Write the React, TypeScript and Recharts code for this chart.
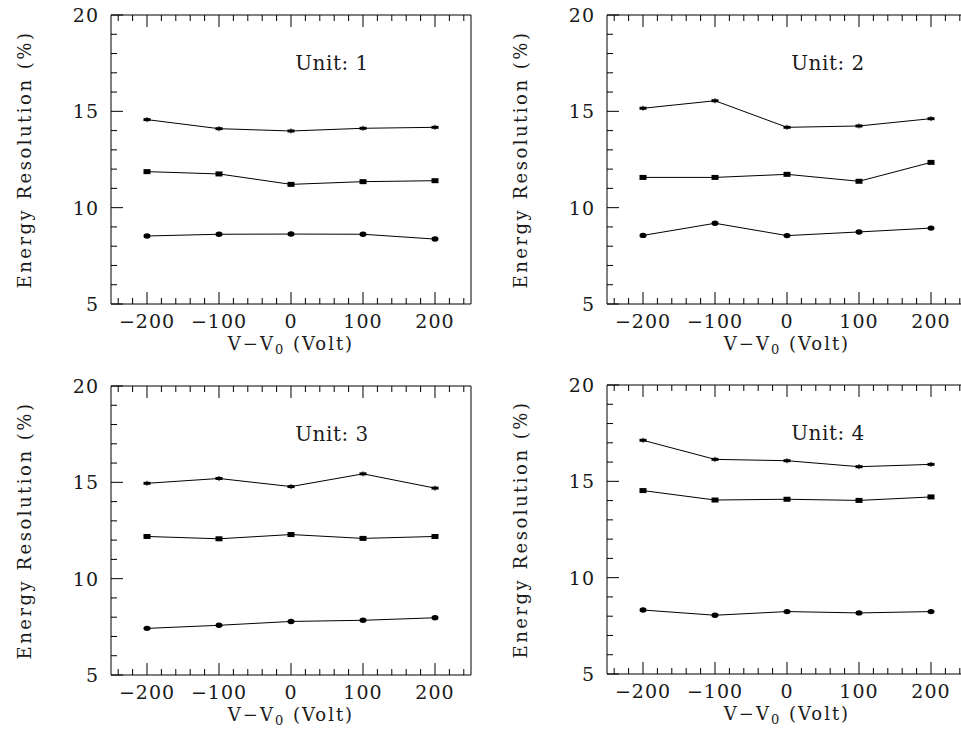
import React from "react";
import { LineChart, Line, XAxis, YAxis, Label } from "recharts";

// --- Data ---
const VOLTS = [-200, -100, 0, 100, 200];

const X_TICKS = [-240, -220, -200, -180, -160, -140, -120, -100, -80, -60, -40, -20, 0, 20, 40, 60, 80, 100, 120, 140, 160, 180, 200, 220, 240];
const X_LABELS = [-200, -100, 0, 100, 200];
const Y_TICKS = [5, 6, 7, 8, 9, 10, 11, 12, 13, 14, 15, 16, 17, 18, 19, 20];
const Y_LABELS = [5, 10, 15, 20];

const UNIT1_HIGH = [14.57, 14.1, 13.98, 14.12, 14.17];
const UNIT1_MID = [11.87, 11.75, 11.21, 11.35, 11.4];
const UNIT1_LOW = [8.53, 8.62, 8.63, 8.62, 8.37];

const UNIT2_HIGH = [15.16, 15.55, 14.17, 14.24, 14.62];
const UNIT2_MID = [11.57, 11.57, 11.73, 11.37, 12.35];
const UNIT2_LOW = [8.56, 9.19, 8.55, 8.74, 8.94];

const UNIT3_HIGH = [14.95, 15.2, 14.78, 15.44, 14.7];
const UNIT3_MID = [12.19, 12.07, 12.29, 12.09, 12.19];
const UNIT3_LOW = [7.42, 7.58, 7.78, 7.84, 7.97];

const UNIT4_HIGH = [17.13, 16.14, 16.07, 15.76, 15.88];
const UNIT4_MID = [14.52, 14.03, 14.07, 14.01, 14.19];
const UNIT4_LOW = [8.32, 8.05, 8.24, 8.17, 8.24];

const FONT = "'DejaVu Serif', 'Liberation Serif', serif";
const INK = "#000";
const TEXT = "#1a1a1a";
const MAJOR = 12;
const MINOR = 6;

const buildRows = (high: number[], mid: number[], low: number[]) =>
  VOLTS.map((v, i) => ({ v, high: high[i], mid: mid[i], low: low[i] }));

const fmt = (v: number) => (v < 0 ? `\u2212${Math.abs(v)}` : `${v}`);

// --- Ticks (drawn inward, like the original frame) ---
function BottomTick({ x, y, payload }: any) {
  const major = X_LABELS.includes(payload.value);
  return (
    <g>
      <line x1={x} y1={y} x2={x} y2={y - (major ? MAJOR : MINOR)} stroke={INK} />
      {major && (
        <text x={x} y={y + 17} textAnchor="middle" dominantBaseline="central" fontFamily={FONT} fontSize={19} letterSpacing={1} fill={TEXT}>
          {fmt(payload.value)}
        </text>
      )}
    </g>
  );
}

function TopTick({ x, y, payload }: any) {
  const major = X_LABELS.includes(payload.value);
  return <line x1={x} y1={y} x2={x} y2={y + (major ? MAJOR : MINOR)} stroke={INK} />;
}

function LeftTick({ x, y, payload }: any) {
  const major = Y_LABELS.includes(payload.value);
  return (
    <g>
      <line x1={x} y1={y} x2={x + (major ? MAJOR : MINOR)} y2={y} stroke={INK} />
      {major && (
        <text x={x - 12} y={y} textAnchor="end" dominantBaseline="central" fontFamily={FONT} fontSize={19} letterSpacing={1} fill={TEXT}>
          {payload.value}
        </text>
      )}
    </g>
  );
}

function RightTick({ x, y, payload }: any) {
  const major = Y_LABELS.includes(payload.value);
  return <line x1={x} y1={y} x2={x - (major ? MAJOR : MINOR)} y2={y} stroke={INK} />;
}

// --- Markers ---
const highDot = (p: any) => (
  <g key={`h-${p.index}`}>
    <rect x={p.cx - 3.5} y={p.cy - 1.5} width={7} height={3} fill={INK} />
    <line x1={p.cx} y1={p.cy - 2.5} x2={p.cx} y2={p.cy + 2.5} stroke={INK} />
  </g>
);
const midDot = (p: any) => <rect key={`m-${p.index}`} x={p.cx - 3.5} y={p.cy - 2.5} width={7} height={5} fill={INK} />;
const lowDot = (p: any) => <ellipse key={`l-${p.index}`} cx={p.cx} cy={p.cy} rx={3.5} ry={2.7} fill={INK} />;

function Panel({ unit, high, mid, low, left, top }: any) {
  const rows = buildRows(high, mid, low);
  return (
    <div style={{ position: "absolute", left, top }}>
      <LineChart width={485} height={365} data={rows} margin={{ top: 14, left: 110, right: 13, bottom: 60 }}>
        <XAxis
          dataKey="v"
          type="number"
          domain={[-250, 250]}
          ticks={X_TICKS}
          interval={0}
          height={1}
          tickSize={0}
          tickMargin={0}
          tick={<BottomTick />}
          axisLine={{ stroke: INK }}
        >
          <Label
            content={({ viewBox }: any) => (
              <text x={viewBox.x + viewBox.width / 2} y={viewBox.y + 46} textAnchor="middle" fontFamily={FONT} fontSize={18} letterSpacing={2} fill={TEXT}>
                <tspan>V{"\u2212"}V</tspan>
                <tspan dy={4} fontSize={13}>0</tspan>
                <tspan dy={-4}> (Volt)</tspan>
              </text>
            )}
          />
        </XAxis>
        <XAxis
          xAxisId="top"
          orientation="top"
          dataKey="v"
          type="number"
          domain={[-250, 250]}
          ticks={X_TICKS}
          interval={0}
          height={1}
          tickSize={0}
          tickMargin={0}
          tick={<TopTick />}
          axisLine={{ stroke: INK }}
        >
          <Label
            content={({ viewBox }: any) => (
              <text x={viewBox.x + 221} y={viewBox.y + 56} textAnchor="middle" fontFamily={FONT} fontSize={20} letterSpacing={0.5} fill={TEXT}>
                {`Unit: ${unit}`}
              </text>
            )}
          />
        </XAxis>
        <YAxis
          type="number"
          domain={[5, 20]}
          ticks={Y_TICKS}
          interval={0}
          width={1}
          tickSize={0}
          tickMargin={0}
          tick={<LeftTick />}
          axisLine={{ stroke: INK }}
        >
          <Label
            content={({ viewBox }: any) => {
              const cx = viewBox.x - 86;
              const cy = viewBox.y + viewBox.height / 2;
              return (
                <text
                  x={cx}
                  y={cy}
                  transform={`rotate(-90 ${cx} ${cy})`}
                  textAnchor="middle"
                  dominantBaseline="central"
                  fontFamily={FONT}
                  fontSize={18}
                  letterSpacing={2.5}
                  fill={TEXT}
                >
                  Energy Resolution (%)
                </text>
              );
            }}
          />
        </YAxis>
        <YAxis
          yAxisId="right"
          orientation="right"
          type="number"
          domain={[5, 20]}
          ticks={Y_TICKS}
          interval={0}
          width={1}
          tickSize={0}
          tickMargin={0}
          tick={<RightTick />}
          axisLine={{ stroke: INK }}
        />
        <Line type="linear" dataKey="high" stroke={INK} strokeWidth={1} dot={highDot} activeDot={false} isAnimationActive={false} />
        <Line type="linear" dataKey="mid" stroke={INK} strokeWidth={1} dot={midDot} activeDot={false} isAnimationActive={false} />
        <Line type="linear" dataKey="low" stroke={INK} strokeWidth={1} dot={lowDot} activeDot={false} isAnimationActive={false} />
      </LineChart>
    </div>
  );
}

export default function App() {
  return (
    <div style={{ position: "fixed", left: 0, top: 0, width: 961, height: 730, overflow: "hidden", background: "#fff" }}>
      <Panel unit={1} high={UNIT1_HIGH} mid={UNIT1_MID} low={UNIT1_LOW} left={0} top={0} />
      <Panel unit={2} high={UNIT2_HIGH} mid={UNIT2_MID} low={UNIT2_LOW} left={496} top={0} />
      <Panel unit={3} high={UNIT3_HIGH} mid={UNIT3_MID} low={UNIT3_LOW} left={0} top={371} />
      <Panel unit={4} high={UNIT4_HIGH} mid={UNIT4_MID} low={UNIT4_LOW} left={496} top={370} />
    </div>
  );
}
